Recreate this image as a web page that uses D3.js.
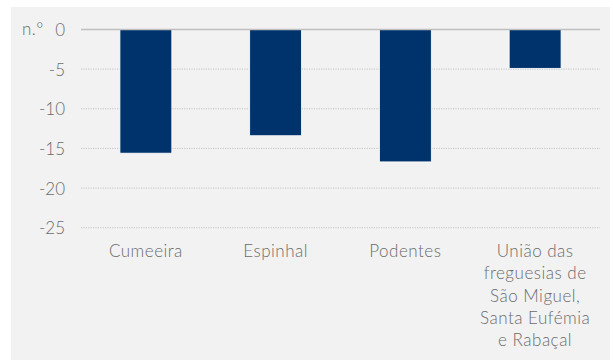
<!DOCTYPE html>
<html>
<head>
<meta charset="utf-8">
<script src="https://cdn.jsdelivr.net/npm/d3@7"></script>
<style>
  html, body { margin: 0; padding: 0; background: #ffffff; }
  svg { display: block; }
  text { font-family: Lato, "Open Sans", sans-serif; fill: #6b6b6b; font-weight: 300; }
</style>
</head>
<body>
<svg id="chart" width="613" height="360"></svg>
<script>
// Saldo (n.º) por freguesia
const categories = [
  ["Cumeeira"],
  ["Espinhal"],
  ["Podentes"],
  ["União das", "freguesias de", "São Miguel,", "Santa Eufémia", "e Rabaçal"]
];
const values = [-15.6, -13.4, -16.7, -4.9];
const yTicks = [0, -5, -10, -15, -20, -25];
const unitLabel = "n.°";

const svg = d3.select("#chart");
const W = 613, H = 360;
const margin = { left: 81, right: 13, top: 29.5, bottom: 132 };

// panel background
svg.append("rect")
  .attr("x", 11).attr("y", 7)
  .attr("width", 599).attr("height", H - 7)
  .attr("fill", "#f2f2f2");

const x = d3.scaleBand()
  .domain(categories.map((c, i) => i))
  .range([margin.left, W - margin.right])
  .paddingInner(0.6).paddingOuter(0.3);

const y = d3.scaleLinear()
  .domain([0, -25])
  .range([margin.top, 227.7]);

// dotted gridlines
svg.append("g")
  .selectAll("line")
  .data(yTicks.filter(t => t !== 0))
  .join("line")
  .attr("x1", margin.left).attr("x2", W - margin.right)
  .attr("y1", d => y(d)).attr("y2", d => y(d))
  .attr("stroke", "#c4c4c4")
  .attr("stroke-width", 1)
  .attr("stroke-dasharray", "1.2,1.2");

// y axis labels
const yAxis = d3.axisLeft(y).tickValues(yTicks).tickSize(0).tickPadding(0)
  .tickFormat(d => d === 0 ? "0" : "-" + Math.abs(d));
const gy = svg.append("g").attr("transform", "translate(65,0)").call(yAxis);
gy.select(".domain").remove();
gy.selectAll("text")
  .attr("font-size", 17)
  .attr("font-family", "Lato, 'Open Sans', sans-serif")
  .attr("font-weight", 300)
  .attr("fill", "#6b6b6b")
  .attr("dy", "0.35em");

svg.append("text")
  .attr("x", 22).attr("y", y(0))
  .attr("dy", "0.35em")
  .attr("font-size", 17)
  .attr("letter-spacing", 0.5)
  .text(unitLabel);

// bars
svg.append("g")
  .selectAll("rect")
  .data(values)
  .join("rect")
  .attr("x", (d, i) => x(i))
  .attr("width", x.bandwidth())
  .attr("y", d => y(Math.max(0, d)))
  .attr("height", d => Math.abs(y(d) - y(0)))
  .attr("fill", "#00336b")
  .attr("stroke", "#ffffff")
  .attr("stroke-width", 0.8);

// zero line
svg.append("line")
  .attr("x1", margin.left).attr("x2", W - margin.right)
  .attr("y1", y(0)).attr("y2", y(0))
  .attr("stroke", "#bfbfbf")
  .attr("stroke-width", 1.5);

// category labels
const labels = svg.append("g")
  .selectAll("text")
  .data(categories)
  .join("text")
  .attr("text-anchor", "middle")
  .attr("font-size", 17)
  .attr("letter-spacing", 0.5)
  .attr("x", (d, i) => x(i) + x.bandwidth() / 2)
  .attr("y", 257);
labels.selectAll("tspan")
  .data(d => d)
  .join("tspan")
  .attr("x", function () { return d3.select(this.parentNode).attr("x"); })
  .attr("dy", (d, i) => i === 0 ? 0 : 22.3)
  .text(d => d);
</script>
</body>
</html>
